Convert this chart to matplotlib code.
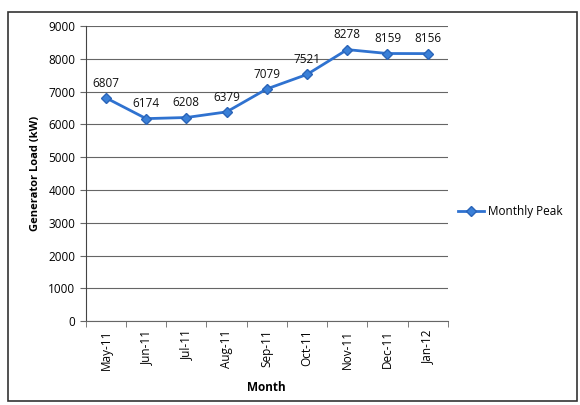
import matplotlib
matplotlib.use("Agg")
import matplotlib.pyplot as plt
from matplotlib.patches import Rectangle
import numpy as np

months = ["May-11", "Jun-11", "Jul-11", "Aug-11", "Sep-11", "Oct-11", "Nov-11", "Dec-11", "Jan-12"]
peak_kw = [6807, 6174, 6208, 6379, 7079, 7521, 8278, 8159, 8156]
y_ticks = [0, 1000, 2000, 3000, 4000, 5000, 6000, 7000, 8000, 9000]

plt.rcParams['font.family'] = ['Open Sans', 'DejaVu Sans']

fig = plt.figure(figsize=(5.8, 4.05), dpi=100)
ax = fig.add_axes([0.148, 0.207, 0.624, 0.729])

x = np.arange(len(months))
line_color = "#2f72d0"
ax.plot(x, peak_kw, color=line_color, lw=2, marker="D", ms=5,
        mfc="#3a80d8", mec="#2a64b8", label="Monthly Peak", zorder=3)

for xi, v in zip(x, peak_kw):
    ax.annotate(str(v), (xi, v), xytext=(0, 6), textcoords="offset points",
                ha="center", va="bottom", fontsize=8.5, color="#111111")

ax.set_xlim(-0.5, len(months) - 0.5)
ax.set_ylim(0, 9000)
ax.set_yticks(y_ticks)
ax.yaxis.grid(True, color="#666666", lw=0.8)
ax.set_axisbelow(True)

ax.set_xticks(x)
ax.set_xticklabels(months, rotation=90, fontsize=8.5)
ax.tick_params(axis="x", length=0, pad=6)
ax.set_xticks(np.arange(len(months) + 1) - 0.5, minor=True)
ax.tick_params(axis="x", which="minor", length=4, color="#666666")
ax.tick_params(axis="y", labelsize=8.5, length=4, color="#666666")

for s in ["top", "right"]:
    ax.spines[s].set_visible(False)
ax.spines["left"].set_color("#444444")
ax.spines["bottom"].set_color("#666666")

ax.set_xlabel("Month", fontsize=8.5, fontweight="bold", labelpad=8)
ax.set_ylabel("Generator Load (kW)", fontsize=8, fontweight="bold", labelpad=5)

ax.legend(loc="center left", bbox_to_anchor=(1.0, 0.37), frameon=False,
          fontsize=8.5, handlelength=2.2, handletextpad=0.3)

fig.patches.append(Rectangle((0.014, 0.01), 0.98, 0.96, transform=fig.transFigure,
                             fill=False, ec="#333333", lw=1.2))

fig.savefig("out.png", dpi=100)
